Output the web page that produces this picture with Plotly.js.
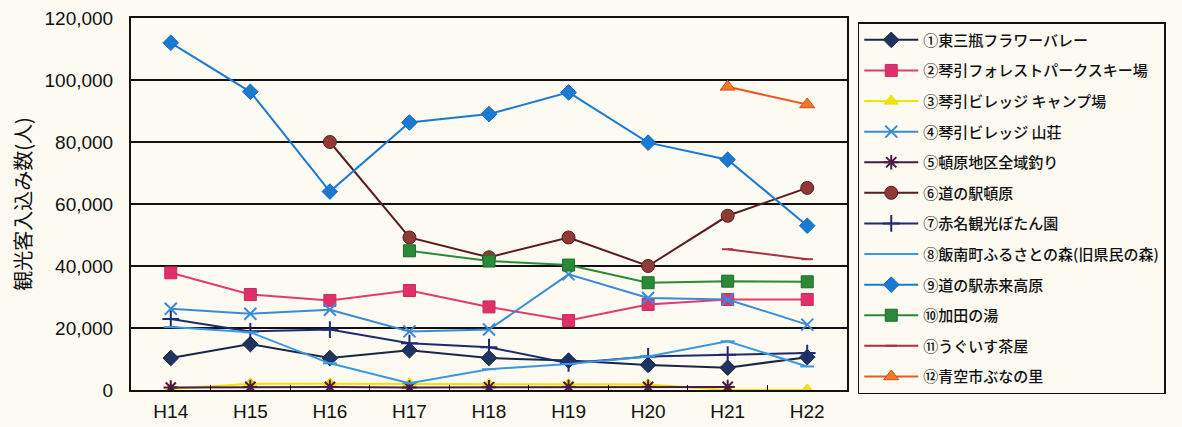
<!DOCTYPE html>
<html>
<head>
<meta charset="utf-8">
<script src="https://cdn.plot.ly/plotly-3.0.1.min.js"></script>
<style>html,body{margin:0;padding:0;background:#fcfaf1;}#chart{width:1182px;height:427px;}</style>
</head>
<body>
<div id="chart"></div>
<script>
const years = ["H14","H15","H16","H17","H18","H19","H20","H21","H22"];
const names = [
  "①東三瓶フラワーバレー",
  "②琴引フォレストパークスキー場",
  "③琴引ビレッジ キャンプ場",
  "④琴引ビレッジ 山荘",
  "⑤頓原地区全域釣り",
  "⑥道の駅頓原",
  "⑦赤名観光ぼたん園",
  "⑧飯南町ふるさとの森(旧県民の森)",
  "⑨道の駅赤来高原",
  "⑩加田の湯",
  "⑪うぐいす茶屋",
  "⑫青空市ぶなの里"
];
const s1 = [10300, 14800, 10300, 12800, 10300, 9500, 8100, 7200, 10600];
const s2 = [37800, 30800, 28900, 32100, 26800, 22400, 27600, 29200, 29200];
const s3 = [300, 2000, 2000, 2000, 1800, 1800, 1800, 0, 0];
const s4 = [26200, 24600, 25900, 18900, 19500, 37300, 29700, 29200, 21100];
const s5 = [800, 1000, 1000, 800, 900, 1000, 1000, 1000, null];
const s6 = [null, null, 80000, 49200, 42800, 49200, 40000, 56200, 65200];
const s7 = [22900, 18900, 19500, 15100, 13800, 8600, 10800, 11400, 11900];
const s8 = [20300, 18600, 8600, 2200, 6700, 8400, 10800, 15700, 7600];
const s9 = [112000, 96200, 64000, 86300, 89000, 96000, 79800, 74300, 53000];
const s10 = [null, null, null, 44900, 41600, 40300, 34600, 35100, 34900];
const s11 = [null, null, null, null, null, null, null, 45400, 42200];
const s12 = [null, null, null, null, null, null, null, 97800, 92100];
const yTicks = [0, 20000, 40000, 60000, 80000, 100000, 120000];

const series = [s1,s2,s3,s4,s5,s6,s7,s8,s9,s10,s11,s12];
const styles = [
  {lc:"#1b2548", mc:"#1f3560", sym:"diamond", sz:12, ol:"#1b2548"},
  {lc:"#e23a72", mc:"#e0306c", sym:"square", sz:12, ol:"#c82a60"},
  {lc:"#f2e200", mc:"#f2e200", sym:"triangle-up", sz:12, ol:"#e8d800"},
  {lc:"#3a8ad8", mc:"#3a8ad8", sym:"x-thin-open", sz:12, ol:"#3a8ad8"},
  {lc:"#4a1a40", mc:"#4a1a40", sym:"asterisk-open", sz:12, ol:"#4a1a40"},
  {lc:"#5c1a1e", mc:"#8e3a36", sym:"circle", sz:13, ol:"#5c1a1e"},
  {lc:"#1e2a72", mc:"#1e2a72", sym:"cross-thin-open", sz:12, ol:"#1e2a72"},
  {lc:"#3a98e0", mc:"#3a98e0", sym:"line-ew-open", sz:10, ol:"#3a98e0"},
  {lc:"#1a7ad2", mc:"#1a7ad2", sym:"diamond", sz:12, ol:"#1a6ac0"},
  {lc:"#2a8a3a", mc:"#2a8a3a", sym:"square", sz:12, ol:"#1e6a2a"},
  {lc:"#a83040", mc:"#a83040", sym:"line-ew-open", sz:8, ol:"#a83040"},
  {lc:"#e85a1e", mc:"#ee7a2a", sym:"triangle-up", sz:13, ol:"#d84a10"}
];

const traces = series.map((ys, i) => ({
  type: "scatter",
  mode: "lines+markers",
  x: years,
  y: ys,
  name: names[i],
  legendgroup: "g" + i,
  connectgaps: false,
  line: {color: styles[i].lc, width: 2},
  marker: {symbol: styles[i].sym, size: styles[i].sz, color: styles[i].mc,
           line: {color: styles[i].ol, width: (styles[i].sym.indexOf("open")>=0 ? 2 : 1)}}
}));

const layout = {
  width: 1182, height: 427,
  paper_bgcolor: "#fcfaf1",
  plot_bgcolor: "#fcfaf1",
  margin: {l: 131, r: 335, t: 18, b: 37},
  font: {family: "Liberation Sans, Arial, sans-serif", color: "#111"},
  showlegend: true,
  legend: {
    x: 1.015, y: 0.989, xanchor: "left", yanchor: "top",
    bgcolor: "#fcfaf1", bordercolor: "#111", borderwidth: 1.5,
    font: {family: "Noto Sans CJK JP", size: 15, color: "#111", weight: 500},
    tracegroupgap: 8.1, itemwidth: 54, traceorder: "grouped"
  },
  xaxis: {
    type: "category",
    range: [-0.5, 8.5],
    showline: true, linecolor: "#111", linewidth: 2, mirror: true,
    showgrid: false, zeroline: false,
    ticks: "inside", tickson: "boundaries", ticklen: 5, tickcolor: "#111", tickwidth: 1,
    ticklabelstandoff: 3,
    tickfont: {size: 19, color: "#111"}
  },
  yaxis: {
    range: [0, 120000],
    tickvals: yTicks,
    ticktext: yTicks.map(v => v.toLocaleString("en-US")),
    showline: true, linecolor: "#111", linewidth: 2, mirror: true,
    showgrid: true, gridcolor: "#111", gridwidth: 1.5,
    zeroline: false, ticks: "",
    ticklabelstandoff: 12,
    tickfont: {size: 19, color: "#111"},
    title: {text: "観光客入込み数(人)", font: {family: "Noto Sans CJK JP", size: 20, color: "#111"}, standoff: 8}
  }
};

Plotly.newPlot("chart", traces, layout, {displayModeBar: false, staticPlot: true});
</script>
</body>
</html>
